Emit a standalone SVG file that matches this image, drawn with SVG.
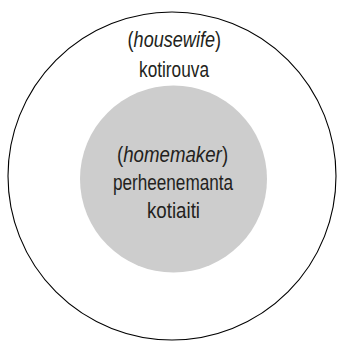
<svg xmlns="http://www.w3.org/2000/svg" width="337" height="342" viewBox="0 0 337 342">
<style>
.lbl{font-family:"Liberation Sans",Arial,sans-serif;font-size:22px;fill:#231f20}
.c{text-anchor:middle}
.it{font-style:italic}
</style>
<rect width="337" height="342" fill="#ffffff"/>
<g id="outer">
<circle cx="172" cy="176" r="164" fill="none" stroke="#000000" stroke-width="1.1"/>
<g transform="translate(174.3,47) scale(0.822,1)">
<text class="lbl" x="-56.85" y="0">(</text>
<text class="lbl it" x="-49.5" y="0">housewife</text>
<text class="lbl" x="49.6" y="0">)</text>
</g>
<text class="lbl c" transform="translate(174,77) scale(0.784,1)" x="0" y="0">kotirouva</text>
</g>
<g id="inner">
<circle cx="173.5" cy="179" r="93.5" fill="#cdcdcd"/>
<g transform="translate(172.5,162) scale(0.849,1)">
<text class="lbl" x="-65.4" y="0">(</text>
<text class="lbl it" x="-58.07" y="0">homemaker</text>
<text class="lbl" x="58.17" y="0">)</text>
</g>
<text class="lbl c" transform="translate(173,190) scale(0.78,1)" x="0" y="0">perheenemanta</text>
<text class="lbl c" transform="translate(173.5,218) scale(0.85,1)" x="0" y="0">kotiaiti</text>
</g>
<g id="connectors"></g>
</svg>
